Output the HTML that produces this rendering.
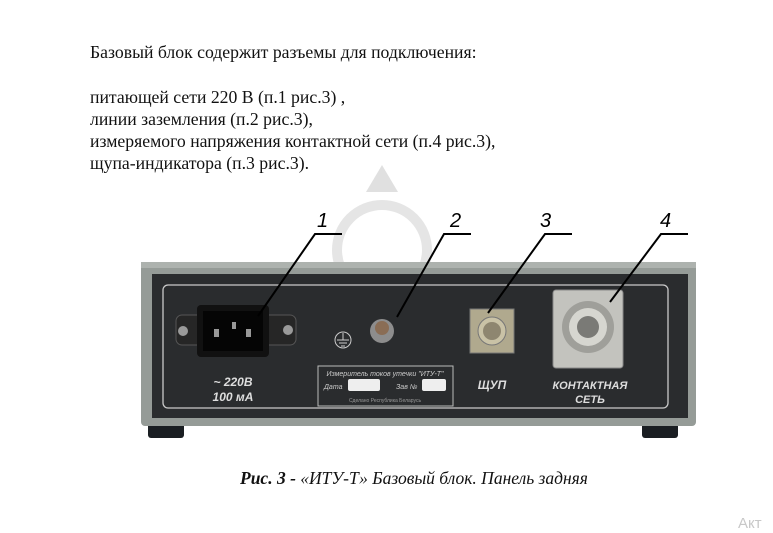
<!DOCTYPE html>
<html><head><meta charset="utf-8"><style>
html,body{margin:0;padding:0;background:#fff;}
body{width:773px;height:533px;position:relative;overflow:hidden;font-family:"Liberation Serif",serif;}
.t{position:absolute;left:90px;font-size:17.7px;color:#111;white-space:nowrap;line-height:20px;}
</style></head><body>
<div class="t" style="top:42px">Базовый блок содержит разъемы для подключения:</div>
<div class="t" style="top:87px">питающей сети 220 В (п.1 рис.3) ,</div>
<div class="t" style="top:109px">линии заземления (п.2 рис.3),</div>
<div class="t" style="top:131px">измеряемого напряжения контактной сети (п.4 рис.3),</div>
<div class="t" style="top:153px">щупа-индикатора (п.3 рис.3).</div>

<svg width="773" height="533" style="position:absolute;left:0;top:0" xmlns="http://www.w3.org/2000/svg">
<!-- watermark -->
<g opacity="0.25" fill="#888">
<path d="M382 165L398 192H366Z"/>
<circle cx="382" cy="250" r="45" fill="none" stroke="#999" stroke-width="10"/>
</g>
<!-- feet -->
<rect x="148" y="422" width="36" height="16" rx="3" fill="#1a1e22"/>
<rect x="642" y="422" width="36" height="16" rx="3" fill="#1a1e22"/>
<!-- case -->
<rect x="141" y="262" width="555" height="164" rx="4" fill="#959b97"/>
<rect x="141" y="262" width="555" height="6" fill="#adb2ae"/>
<rect x="152" y="274" width="536" height="144" fill="#2a2c2e"/>
<rect x="163" y="285" width="505" height="123" rx="5" fill="none" stroke="#c9c9c9" stroke-width="1.3"/>
<!-- power inlet -->
<rect x="176" y="315" width="120" height="30" rx="6" fill="#262626" stroke="#555"/>
<circle cx="183" cy="331" r="5" fill="#9a9a9a"/><circle cx="288" cy="330" r="5" fill="#9a9a9a"/>
<rect x="197" y="305" width="72" height="52" rx="4" fill="#111"/>
<rect x="203" y="311" width="60" height="40" fill="#050505"/>
<rect x="214" y="329" width="5" height="8" fill="#999"/><rect x="232" y="322" width="4" height="7" fill="#999"/><rect x="246" y="329" width="5" height="8" fill="#999"/>
<text x="233" y="386" font-family="Liberation Sans" font-weight="bold" font-style="italic" font-size="12" fill="#ddd" text-anchor="middle">~ 220В</text>
<text x="233" y="401" font-family="Liberation Sans" font-weight="bold" font-style="italic" font-size="12" fill="#ddd" text-anchor="middle">100 мА</text>
<!-- ground -->
<circle cx="343" cy="340" r="8" fill="none" stroke="#ccc"/>
<path d="M343 333v7M337 340h12M339 343h8M341 346h4" stroke="#ccc" fill="none"/>
<circle cx="382" cy="331" r="12" fill="#8d8d8d"/><circle cx="382" cy="328" r="7" fill="#8a6d55"/>
<!-- label plate -->
<rect x="318" y="366" width="135" height="40" fill="#2a2c2e" stroke="#bbb"/>
<text x="385" y="376" font-family="Liberation Sans" font-style="italic" font-size="7" fill="#ccc" text-anchor="middle">Измеритель токов утечки "ИТУ-Т"</text>
<text x="324" y="389" font-family="Liberation Sans" font-style="italic" font-size="7" fill="#ccc">Дата</text>
<rect x="348" y="379" width="32" height="12" rx="2" fill="#eee"/>
<text x="396" y="389" font-family="Liberation Sans" font-style="italic" font-size="7" fill="#ccc">Зав №</text>
<rect x="422" y="379" width="24" height="12" rx="2" fill="#eee"/>
<text x="385" y="402" font-family="Liberation Sans" font-size="5" fill="#999" text-anchor="middle">Сделано Республика Беларусь</text>
<!-- probe connector -->
<rect x="470" y="309" width="44" height="44" fill="#b0a98e" stroke="#777"/>
<circle cx="492" cy="331" r="14" fill="#c9c2a6" stroke="#777"/>
<circle cx="492" cy="331" r="9" fill="#8e8670"/>
<text x="492" y="389" font-family="Liberation Sans" font-weight="bold" font-style="italic" font-size="12" fill="#ddd" text-anchor="middle">ЩУП</text>
<!-- powercon -->
<rect x="553" y="290" width="70" height="78" rx="3" fill="#c3c3be" stroke="#888"/>
<circle cx="588" cy="327" r="26" fill="#9f9f9a"/>
<circle cx="588" cy="327" r="19" fill="#d6d6d0"/>
<circle cx="588" cy="327" r="11" fill="#7a7a76"/>
<text x="590" y="389" font-family="Liberation Sans" font-weight="bold" font-style="italic" font-size="11" fill="#ddd" text-anchor="middle">КОНТАКТНАЯ</text>
<text x="590" y="403" font-family="Liberation Sans" font-weight="bold" font-style="italic" font-size="11" fill="#ddd" text-anchor="middle">СЕТЬ</text>
<!-- leaders -->
<g stroke="#000" stroke-width="2" fill="none">
<path d="M342 234H315L258 316"/>
<path d="M471 234H444L397 317"/>
<path d="M572 234H545L488 313"/>
<path d="M688 234H661L610 302"/>
</g>
<g font-family="Liberation Sans" font-style="italic" font-size="20" fill="#000">
<text x="317" y="227">1</text><text x="450" y="227">2</text><text x="540" y="227">3</text><text x="660" y="227">4</text>
</g>
<text x="240" y="484" font-family="Liberation Serif" font-style="italic" font-size="17.5" fill="#111"><tspan font-weight="bold">Рис. 3 - </tspan>«ИТУ-Т» Базовый блок. Панель задняя</text>
<text x="738" y="528" font-family="Liberation Sans" font-size="15" fill="#c8c8c8">Акт</text>
</svg>
</body></html>
